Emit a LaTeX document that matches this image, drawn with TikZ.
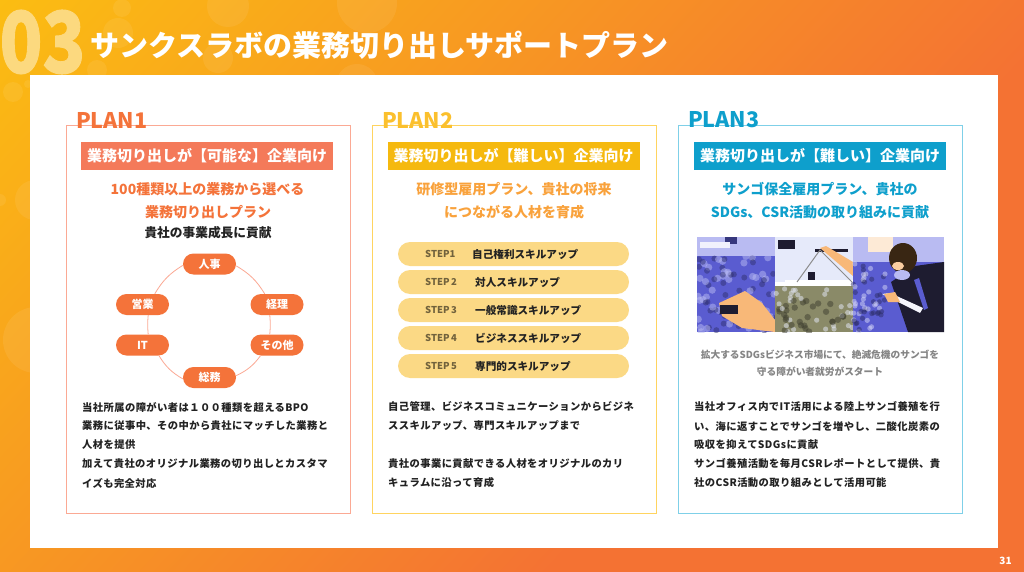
\documentclass[tikz,border=0pt]{standalone}
\usepackage{fontspec}
\setmainfont{Noto Sans CJK JP}
\newfontfamily\jpbody{Noto Sans CJK JP}[LetterSpace=4]
\newfontfamily\jpheavy{Noto Sans CJK JP}[BoldFeatures={FakeBold=1.2}]
\definecolor{bgyellow}{HTML}{FBBD12}
\definecolor{bgmiddle}{HTML}{F7951F}
\definecolor{bgorange}{HTML}{F47233}
\definecolor{chaptercolor}{HTML}{FCD97F}
\definecolor{planred}{HTML}{F4733A}
\definecolor{planredline}{HTML}{FBA994}
\definecolor{planredtag}{HTML}{F47A5A}
\definecolor{planyellow}{HTML}{FBC02D}
\definecolor{planyellowline}{HTML}{FFD460}
\definecolor{planyellowtag}{HTML}{F5B90F}
\definecolor{planyellowhead}{HTML}{F9A23C}
\definecolor{pillyellow}{HTML}{FBD985}
\definecolor{planblue}{HTML}{0E9FCC}
\definecolor{planblueline}{HTML}{7FD0E8}
\definecolor{inkblack}{HTML}{222222}
\definecolor{photoblue}{HTML}{5A5CD0}
\definecolor{photolilac}{HTML}{B9BBF2}
\definecolor{photopeach}{HTML}{F8B878}
\definecolor{photopale}{HTML}{E6EAFA}
\definecolor{photomoss}{HTML}{8A8A68}
\definecolor{photodark}{HTML}{1E1C30}
\tikzset{
  planbox/.style={draw, line width=1pt},
  plantitle/.style={anchor=west, inner sep=0, font=\bfseries\fontsize{21.5}{21.5}\selectfont},
  plantag/.style={minimum width=252pt, minimum height=28pt, inner sep=0, text=white, font=\bfseries\fontsize{15}{15}\selectfont},
  planhead/.style={inner sep=0, font=\bfseries\fontsize{14}{14}\selectfont},
  bodytext/.style={anchor=west, inner sep=0, text=inkblack, font=\jpbody\bfseries\fontsize{10.3}{10.3}\selectfont},
  notetext/.style={inner sep=0, text=black!48, font=\bfseries\fontsize{9.7}{9.7}\selectfont},
  ringnode/.style={fill=planred, rounded corners=10.5pt, minimum width=53pt, minimum height=21pt, inner sep=0, text=white, font=\bfseries\fontsize{11}{11}\selectfont},
  ringline/.style={draw=planredline, line width=0.8pt},
  steppill/.style={fill=pillyellow, rounded corners=12pt, minimum width=231pt, minimum height=24pt, inner sep=0},
  steplabel/.style={anchor=west, inner sep=0, text=black!55!pillyellow, font=\bfseries\fontsize{9.5}{9.5}\selectfont},
  stepname/.style={anchor=west, inner sep=0, text=inkblack, font=\bfseries\fontsize{10.6}{10.6}\selectfont},
  bubble/.style={fill=white, fill opacity=0.07},
  photodot/.style={fill opacity=0.5}
}
\begin{document}
\begin{tikzpicture}[x=1pt, y=-1pt]
  \useasboundingbox (0, 0) rectangle (1024, 572);

  \begin{scope}
    \clip (0, 0) rectangle (1024, 572);
    \fill[bgorange] (0, 0) rectangle (1024, 572);
    \shade[transform canvas={rotate around={-43:(0, 0)}}, left color=bgyellow, middle color=bgmiddle, right color=bgorange] (0, -900) rectangle (791, 900);
    \foreach \bx/\by/\br in {122/8/9, 228/6/21, 218/58/15, 97/70/10, 118/33/15, 13/92/10, 28/84/4, 367/3/30, 357/85/21, 36/340/33, 35/200/20, 0/200/6}
      \fill[bubble] (\bx, \by) circle (\br);
  \end{scope}

  \node[text=chaptercolor, inner sep=0, xscale=0.83, font=\jpheavy\bfseries\fontsize{85}{85}\selectfont] (chapter) at (42.5, 42) {03};
  \node[anchor=west, inner sep=0, text=white, font=\bfseries\fontsize{29}{29}\selectfont] (title) at (90, 45) {サンクスラボの業務切り出しサポートプラン};

  \fill[white] (30, 75) rectangle (998, 548);

  \draw[planbox, planredline] (66, 126) rectangle (350, 513);
  \draw[planbox, planyellowline] (372, 126) rectangle (656, 513);
  \draw[planbox, planblueline] (678, 126) rectangle (962, 513);

  \node[plantitle, text=planred] (plan1) at (76, 120) {PLAN1};
  \node[plantitle, text=planyellow] (plan2) at (382, 120) {PLAN2};
  \node[plantitle, text=planblue] (plan3) at (688, 120) {PLAN3};

  \node[plantag, fill=planredtag] (tag1) at (207, 156) {業務切り出しが【可能な】企業向け};
  \node[plantag, fill=planyellowtag] (tag2) at (513.5, 156) {業務切り出しが【難しい】企業向け};
  \node[plantag, fill=planblue] (tag3) at (820, 156) {業務切り出しが【難しい】企業向け};

  \node[planhead, text=planred] (head1a) at (207.5, 189) {100種類以上の業務から選べる};
  \node[planhead, text=planred] (head1b) at (208, 212) {業務切り出しプラン};
  \node[inner sep=0, text=inkblack, font=\bfseries\fontsize{12.7}{12.7}\selectfont] (head1c) at (208, 233) {貴社の事業成長に貢献};
  \node[planhead, text=planyellowhead] (head2a) at (514, 189) {研修型雇用プラン、貴社の将来};
  \node[planhead, text=planyellowhead] (head2b) at (514, 212) {につながる人材を育成};
  \node[planhead, text=planblue] (head3a) at (820, 189) {サンゴ保全雇用プラン、貴社の};
  \node[planhead, text=planblue] (head3b) at (820, 212) {SDGs、CSR活動の取り組みに貢献};

  \node[ringnode] (jinji) at (209.5, 264) {人事};
  \node[ringnode] (keiri) at (277, 304.5) {経理};
  \node[ringnode] (sonota) at (277, 345) {その他};
  \node[ringnode] (soumu) at (209.5, 377.5) {総務};
  \node[ringnode] (it) at (142.5, 345) {IT};
  \node[ringnode] (eigyo) at (142.5, 304.5) {営業};
  \draw[ringline] (jinji.-4) to[bend left=14] (keiri.139);
  \draw[ringline] (keiri.236) to[bend left=5] (sonota.124);
  \draw[ringline] (sonota.213) to[bend left=14] (soumu.4);
  \draw[ringline] (soumu.183) to[bend left=14] (it.327);
  \draw[ringline] (it.62) to[bend left=5] (eigyo.298);
  \draw[ringline] (eigyo.41) to[bend left=14] (jinji.183);

  \node[bodytext] (text1a) at (82, 407) {当社所属の障がい者は１００種類を超えるBPO};
  \node[bodytext] (text1b) at (82, 426) {業務に従事中、その中から貴社にマッチした業務と};
  \node[bodytext] (text1c) at (82, 445) {人材を提供};
  \node[bodytext] (text1d) at (82, 464) {加えて貴社のオリジナル業務の切り出しとカスタマ};
  \node[bodytext] (text1e) at (82, 483) {イズも完全対応};

  \foreach \num/\slabel/\sx/\sname/\sy in {1/STEP1/472/自己権利スキルアップ/254, 2/STEP\,2/475/対人スキルアップ/282, 3/STEP\,3/475/一般常識スキルアップ/310, 4/STEP\,4/475/ビジネススキルアップ/338, 5/STEP\,5/475/専門的スキルアップ/366} {
    \node[steppill] (pill\num) at (513.5, \sy) {};
    \node[steplabel] (step\num) at (425, \sy) {\slabel};
    \node[stepname] (name\num) at (\sx, \sy) {\sname};
  }

  \node[bodytext] (text2a) at (388, 407) {自己管理、ビジネスコミュニケーションからビジネ};
  \node[bodytext] (text2b) at (388, 426) {ススキルアップ、専門スキルアップまで};
  \node[bodytext] (text2c) at (388, 464) {貴社の事業に貢献できる人材をオリジナルのカリ};
  \node[bodytext] (text2d) at (388, 483) {キュラムに沿って育成};

  \begin{scope}
    \clip (697, 237) rectangle (944, 332);
    \pgfmathsetseed{31}
    \fill[photoblue] (697, 237) rectangle (775, 332);
    \fill[photolilac] (697, 237) rectangle (775, 256);
    \fill[photoblue!60!black] (725, 237) rectangle (737, 244);
    \fill[white!80!photolilac] (700, 242) rectangle (730, 248);
    \foreach \i in {1,...,45} {
      \fill[photolilac, photodot] ({697+78*rnd}, {255+77*rnd}) circle (3.6);
      \fill[photoblue!55!black, photodot] ({697+78*rnd}, {255+77*rnd}) circle (3);
    }
    \fill[photopeach] (719, 303) -- (745, 291) -- (762, 303) -- (775, 320) -- (775, 332) -- (742, 328) -- (722, 316) -- cycle;
    \fill[photodark] (720, 305) rectangle (738, 314);

    \fill[photopale] (775, 237) rectangle (853, 282);
    \fill[photodark] (778, 240) rectangle (795, 249);
    \fill[photodark] (815, 249) rectangle (848, 252);
    \fill[white] (785, 280) rectangle (853, 286);
    \fill[photomoss] (775, 286) rectangle (853, 332);
    \foreach \i in {1,...,28} {
      \fill[photopale, photodot] ({775+78*rnd}, {286+46*rnd}) circle (2.6);
      \fill[photomoss!45!black, photodot] ({775+78*rnd}, {300+32*rnd}) circle (3.2);
    }
    \draw[black!45, line width=1pt] (797, 282) -- (820, 250) -- (852, 282);
    \fill[photopeach] (820, 248) -- (826, 246) -- (853, 262) -- (853, 276) -- cycle;
    \fill[photodark] (808, 272) rectangle (815, 280);

    \fill[photoblue] (853, 237) rectangle (944, 332);
    \fill[photolilac] (853, 237) rectangle (944, 262);
    \fill[white!70!photopeach] (868, 237) rectangle (893, 252);
    \foreach \i in {1,...,28} {
      \fill[photolilac!60!white, photodot] ({853+32*rnd}, {262+70*rnd}) circle (2.6);
      \fill[photoblue!50!black, photodot] ({853+32*rnd}, {262+70*rnd}) circle (2.6);
    }
    \fill[photodark] (891, 282) -- (915, 266) -- (944, 262) -- (944, 332) -- (908, 332) -- cycle;
    \fill[black!70!brown] (903, 258) ellipse (14 and 15);
    \fill[photopeach!70!white] (898, 266) ellipse (6 and 4);
    \fill[photolilac] (902, 275) ellipse (8 and 5);
    \fill[white!85!photolilac] (882, 294) -- (890, 293) -- (923, 308) -- (920, 313) -- cycle;
    \fill[photoblue] (914, 280) -- (919, 278) -- (928, 308) -- (924, 310) -- cycle;
    \fill[photopeach] (884, 294) -- (895, 292) -- (900, 302) -- (888, 302) -- cycle;
  \end{scope}

  \node[notetext] (note3a) at (820, 355) {拡大するSDGsビジネス市場にて、絶滅危機のサンゴを};
  \node[notetext] (note3b) at (820, 372) {守る障がい者就労がスタート};

  \node[bodytext] (text3a) at (694, 407) {当社オフィス内でIT活用による陸上サンゴ養殖を行};
  \node[bodytext] (text3b) at (694, 426) {い、海に返すことでサンゴを増やし、二酸化炭素の};
  \node[bodytext] (text3c) at (694, 445) {吸収を抑えてSDGsに貢献};
  \node[bodytext] (text3d) at (694, 464) {サンゴ養殖活動を毎月CSRレポートとして提供、貴};
  \node[bodytext] (text3e) at (694, 483) {社のCSR活動の取り組みとして活用可能};

  \node[inner sep=0, text=white, font=\bfseries\fontsize{10}{10}\selectfont] (pagenum) at (1005.5, 561) {31};
\end{tikzpicture}
\end{document}
